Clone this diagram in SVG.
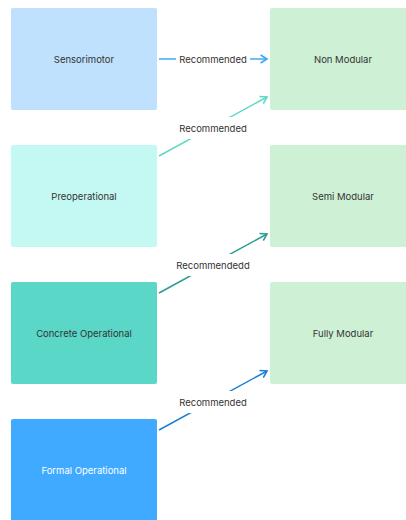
<svg xmlns="http://www.w3.org/2000/svg" width="406" height="520" viewBox="0 0 406 520">
  <style>
    .node text { font-family: Inter, "Liberation Sans", sans-serif; font-size: 9.5px; fill: #333; text-anchor: middle; dominant-baseline: central; }
    .edge { fill: none; stroke-width: 1.5; }
    .lbl-bg { fill: #ffffff; }
    .lbl { font-family: Inter, "Liberation Sans", sans-serif; font-size: 9.5px; fill: #333; text-anchor: middle; dominant-baseline: central; }
  </style>
  <defs>
    <marker id="arrow-blue" viewBox="0 0 10 10" refX="9" refY="5" markerWidth="8" markerHeight="8" markerUnits="userSpaceOnUse" orient="auto" overflow="visible">
      <path d="M1,0 L9,5 L1,10" fill="none" stroke="#3ea8f5" stroke-width="2"/>
    </marker>
    <marker id="arrow-turq" viewBox="0 0 10 10" refX="9" refY="5" markerWidth="8" markerHeight="8" markerUnits="userSpaceOnUse" orient="auto" overflow="visible">
      <path d="M1,0 L9,5 L1,10" fill="none" stroke="#5dd8c7" stroke-width="2"/>
    </marker>
    <marker id="arrow-teal" viewBox="0 0 10 10" refX="9" refY="5" markerWidth="8" markerHeight="8" markerUnits="userSpaceOnUse" orient="auto" overflow="visible">
      <path d="M1,0 L9,5 L1,10" fill="none" stroke="#2a9d8f" stroke-width="2"/>
    </marker>
    <marker id="arrow-dblue" viewBox="0 0 10 10" refX="9" refY="5" markerWidth="8" markerHeight="8" markerUnits="userSpaceOnUse" orient="auto" overflow="visible">
      <path d="M1,0 L9,5 L1,10" fill="none" stroke="#1a7fd6" stroke-width="2"/>
    </marker>
  </defs>

  <g id="nodes">
    <g id="sensorimotor" class="node">
      <rect x="11" y="8" width="146" height="102" rx="2" fill="#bfe1fd"/>
      <text x="84" y="59">Sensorimotor</text>
    </g>
    <g id="preoperational" class="node">
      <rect x="11" y="145" width="146" height="102" rx="2" fill="#c3f8f3"/>
      <text x="84" y="196">Preoperational</text>
    </g>
    <g id="concrete-operational" class="node">
      <rect x="11" y="282" width="146" height="102" rx="2" fill="#5bd7c8"/>
      <text x="84" y="333">Concrete Operational</text>
    </g>
    <g id="formal-operational" class="node">
      <rect x="11" y="419" width="146" height="110" rx="2" fill="#3faaff"/>
      <text x="84" y="470" style="fill:#ffffff">Formal Operational</text>
    </g>
    <g id="non-modular" class="node">
      <rect x="270" y="8" width="146" height="102" rx="2" fill="#cef0d5"/>
      <text x="343" y="59">Non Modular</text>
    </g>
    <g id="semi-modular" class="node">
      <rect x="270" y="145" width="146" height="102" rx="2" fill="#cef0d5"/>
      <text x="343" y="196">Semi Modular</text>
    </g>
    <g id="fully-modular" class="node">
      <rect x="270" y="282" width="146" height="102" rx="2" fill="#cef0d5"/>
      <text x="343" y="333">Fully Modular</text>
    </g>
  </g>

  <g id="connectors">
    <path class="edge" d="M159,59 L267,59" stroke="#3ea8f5" marker-end="url(#arrow-blue)"/>
    <rect class="lbl-bg" x="176" y="51" width="74" height="16"/>
    <text class="lbl" x="213" y="59">Recommended</text>

    <path class="edge" d="M159,156 L267,97" stroke="#5dd8c7" marker-end="url(#arrow-turq)"/>
    <rect class="lbl-bg" x="176" y="117" width="74" height="22"/>
    <text class="lbl" x="213" y="128">Recommended</text>

    <path class="edge" d="M159,293 L267,234" stroke="#2a9d8f" marker-end="url(#arrow-teal)"/>
    <rect class="lbl-bg" x="174" y="254" width="78" height="22"/>
    <text class="lbl" x="213" y="265">Recommendedd</text>

    <path class="edge" d="M159,430 L267,371" stroke="#1a7fd6" marker-end="url(#arrow-dblue)"/>
    <rect class="lbl-bg" x="176" y="391" width="74" height="22"/>
    <text class="lbl" x="213" y="402">Recommended</text>
  </g>
</svg>
